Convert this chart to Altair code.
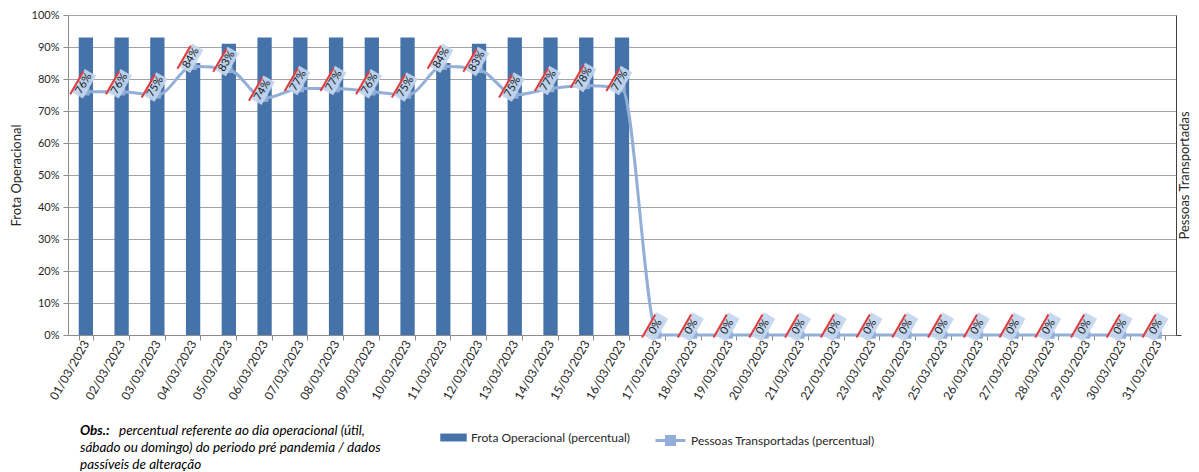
import altair as alt
import pandas as pd

datas = ["01/03/2023", "02/03/2023", "03/03/2023", "04/03/2023", "05/03/2023",
         "06/03/2023", "07/03/2023", "08/03/2023", "09/03/2023", "10/03/2023",
         "11/03/2023", "12/03/2023", "13/03/2023", "14/03/2023", "15/03/2023",
         "16/03/2023", "17/03/2023", "18/03/2023", "19/03/2023", "20/03/2023",
         "21/03/2023", "22/03/2023", "23/03/2023", "24/03/2023", "25/03/2023",
         "26/03/2023", "27/03/2023", "28/03/2023", "29/03/2023", "30/03/2023",
         "31/03/2023"]
frota = [93, 93, 93, 85, 91, 93, 93, 93, 93, 93, 85, 91, 93, 93, 93, 93,
         0, 0, 0, 0, 0, 0, 0, 0, 0, 0, 0, 0, 0, 0, 0]
pessoas = [76, 76, 75, 84, 83, 74, 77, 77, 76, 75, 84, 83, 75, 77, 78, 77,
           0, 0, 0, 0, 0, 0, 0, 0, 0, 0, 0, 0, 0, 0, 0]
serie_frota = "Frota Operacional (percentual)"
serie_pessoas = "Pessoas Transportadas (percentual)"
obs_l1_bold = "Obs.:"
obs_l1 = "percentual referente ao dia operacional (útil,"
obs_l23 = ["sábado ou domingo) do periodo pré pandemia / dados", "passíveis de alteração"]
y_ticks = [0, 10, 20, 30, 40, 50, 60, 70, 80, 90, 100]

df = pd.DataFrame({"data": datas, "frota": frota, "pessoas": pessoas})
df["rotulo"] = df["pessoas"].astype(str) + "%"
df["s1"] = serie_frota
df["s2"] = serie_pessoas

FONT = "Lato"
BAR = "#4573A9"
LINE = "#93AFD8"
TXT = "#262626"

W, H = 1108, 320

x = alt.X("data:N", sort=datas,
          scale=alt.Scale(paddingInner=0.6, paddingOuter=0.3),
          axis=alt.Axis(title=None, labelAngle=-60, labelFontSize=12, labelFont=FONT,
                        labelColor=TXT, tickBand="extent", tickSize=5,
                        domainColor="#8c8c8c", tickColor="#8c8c8c", labelPadding=1))

bars = alt.Chart(df).mark_bar().encode(
    x=x,
    y=alt.Y("frota:Q", scale=alt.Scale(domain=[0, 100]),
            axis=alt.Axis(values=y_ticks, labelExpr="datum.value + '%'",
                          title="Frota Operacional", titleFont=FONT, titleFontSize=13,
                          titleFontWeight="normal", titleColor=TXT, titlePadding=8,
                          labelFont=FONT, labelFontSize=11, labelColor=TXT,
                          grid=True, gridColor="#a3a3a3", tickSize=5,
                          tickColor="#8c8c8c", domainColor="#8c8c8c", labelPadding=4)),
    fill=alt.Fill("s1:N", scale=alt.Scale(range=[BAR]),
                  legend=alt.Legend(title=None, orient="none", legendX=372, legendY=409,
                                    symbolType="M-1,-0.3L1,-0.3L1,0.3L-1,0.3Z",
                                    symbolSize=700, symbolStrokeWidth=0, labelLimit=400,
                                    labelFont=FONT, labelFontSize=12, labelColor=TXT)),
)

yr = alt.Y("pessoas:Q", scale=alt.Scale(domain=[0, 100]),
           axis=alt.Axis(orient="right", values=[0], labels=False, grid=False,
                         title="Pessoas Transportadas", titleAngle=270, titleFont=FONT,
                         titleFontSize=13, titleFontWeight="normal", titleColor=TXT,
                         titlePadding=10, tickSize=5, tickColor="#404040",
                         domainColor="#404040"))

base = alt.Chart(df).encode(x=x, y=yr)

line = base.mark_line(strokeWidth=3, interpolate="monotone").encode(
    stroke=alt.Stroke("s2:N", scale=alt.Scale(range=[LINE]),
                      legend=alt.Legend(title=None, orient="none", legendX=586, legendY=409,
                                        symbolType="M-1,0L1,0M-0.27,-0.27L0.27,-0.27L0.27,0.27L-0.27,0.27Z",
                                        symbolSize=900, symbolStrokeWidth=3, labelOffset=4,
                                        symbolFillColor=LINE, labelLimit=400,
                                        labelFont=FONT, labelFontSize=12, labelColor=TXT)))

pts = base.mark_point(shape="square", filled=True, size=55, color=LINE, opacity=1)

OX, OY = -2, -8
ANG = 300
box = base.mark_point(shape="M-1,-0.5L1,-0.5L1,0.5L-1,0.5Z", angle=ANG, filled=True,
                      color="#c3d6ee", opacity=0.92, size=700, xOffset=OX, yOffset=OY)
red = base.mark_point(shape="M-1.2,-0.5L0.8,-0.5", angle=ANG, filled=False,
                      color="#e0393e", strokeWidth=2, opacity=1, size=700,
                      xOffset=OX, yOffset=OY)
txt = base.mark_text(angle=ANG, font=FONT, fontSize=11, color="#1a1a1a",
                     xOffset=OX, yOffset=OY).encode(text="rotulo:N")

FS = 13.5
obs_b = alt.Chart(pd.DataFrame({"t": [obs_l1_bold]})).mark_text(
    align="left", baseline="middle", font=FONT, fontSize=FS, fontStyle="italic",
    fontWeight="bold", color="#000000").encode(x=alt.value(12), y=alt.value(416), text="t:N")
obs_1 = alt.Chart(pd.DataFrame({"t": [obs_l1]})).mark_text(
    align="left", baseline="middle", font=FONT, fontSize=FS, fontStyle="italic",
    color="#000000").encode(x=alt.value(51), y=alt.value(416), text="t:N")
obs_2 = alt.Chart(pd.DataFrame({"t": ["\n".join(obs_l23)]})).mark_text(
    align="left", baseline="middle", font=FONT, fontSize=FS, fontStyle="italic",
    color="#000000", lineBreak="\n", lineHeight=17).encode(x=alt.value(12), y=alt.value(433), text="t:N")

chart = alt.layer(
    bars,
    alt.layer(line, pts, box, red, txt),
    obs_b, obs_1, obs_2,
).resolve_scale(y="independent").properties(
    width=W, height=H,
    autosize=alt.AutoSizeParams(type="none"),
    padding={"left": 60, "top": 7, "right": 15, "bottom": 137},
).configure_view(stroke="#404040", strokeWidth=1).configure(background="white")

chart.save("out.html", embed_options={"renderer": "svg", "actions": False})
